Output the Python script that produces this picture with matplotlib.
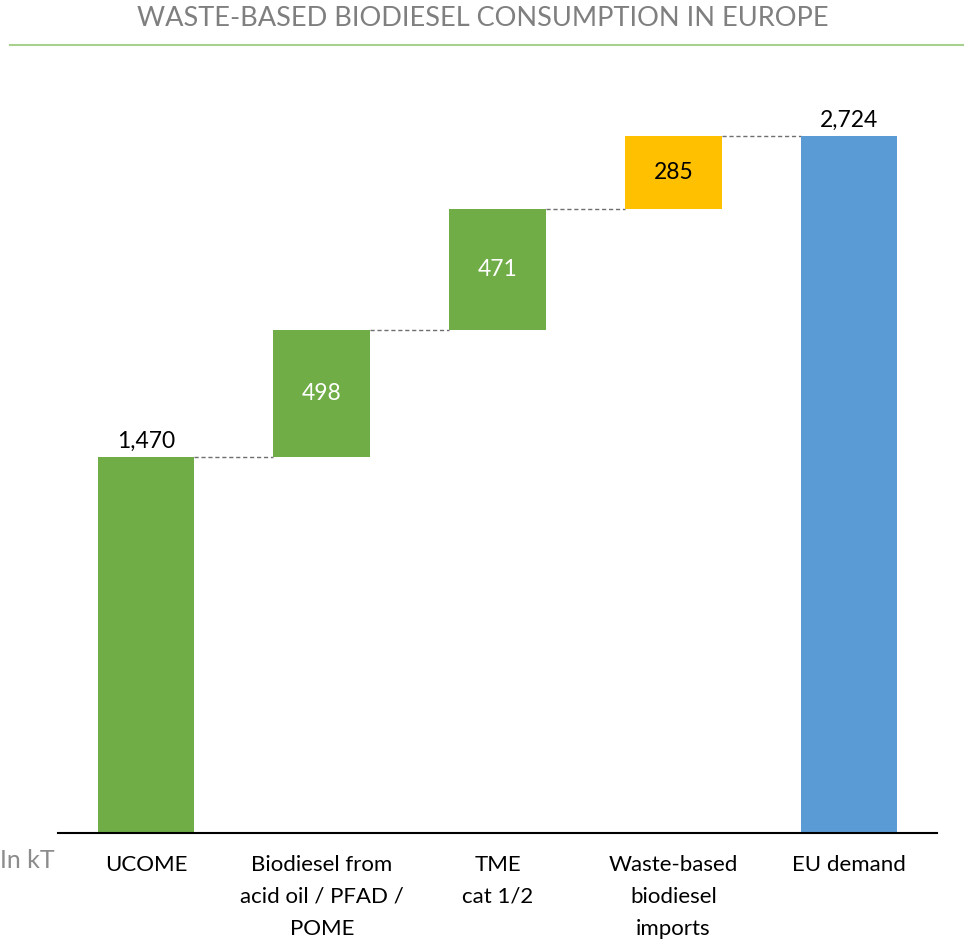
import numpy as np
import matplotlib.pyplot as plt
from matplotlib.lines import Line2D

plt.rcParams['font.family'] = ['Lato', 'DejaVu Sans']

categories = ['UCOME', 'Biodiesel from\nacid oil / PFAD /\nPOME', 'TME\ncat 1/2',
              'Waste-based\nbiodiesel\nimports', 'EU demand']
steps = [1470, 498, 471, 285]
total = 2724
bar_colors = ['#70AD47', '#70AD47', '#70AD47', '#FFC000', '#5B9BD5']
label_colors = ['black', 'white', 'white', 'black', 'black']

fig = plt.figure(figsize=(9.65, 9.42), dpi=100)
ax = fig.add_axes([58 / 965, 1 - 833 / 942, 879 / 965, 733 / 942])

x = np.arange(len(categories))
heights = steps + [total]
bottoms = [0] + list(np.cumsum(steps)[:-1]) + [0]
width = 0.55

ax.bar(x, heights, width, bottom=bottoms, color=bar_colors, zorder=2)

# value labels
for i, (h, b) in enumerate(zip(heights, bottoms)):
    txt = f'{h:,}'
    if i == 0 or i == len(heights) - 1:
        ax.annotate(txt, (x[i], b + h), xytext=(0, 4), textcoords='offset points',
                    ha='center', va='bottom', fontsize=16.5, color=label_colors[i])
    else:
        ax.text(x[i], b + h / 2, txt, ha='center', va='center', fontsize=16.5,
                color=label_colors[i])

# connectors
tops = [b + h for b, h in zip(bottoms, heights)]
for i in range(len(heights) - 1):
    ax.plot([x[i] + width / 2, x[i + 1] - width / 2], [tops[i], tops[i]],
            ls=(0, (3, 2)), color='#6F6F6F', lw=1, zorder=1)

ax.set_xlim(-0.5, len(categories) - 0.5)
ax.set_ylim(0, 2866)
ax.set_yticks([])
ax.set_xticks(x)
ax.set_xticklabels(categories, fontsize=16, linespacing=1.75)
ax.tick_params(axis='x', length=0, pad=15.5)
for s in ['top', 'right', 'left']:
    ax.spines[s].set_visible(False)
ax.spines['bottom'].set_linewidth(1.5)

fig.text(0.5, 1 - 18 / 942, 'WASTE-BASED BIODIESEL CONSUMPTION IN EUROPE', ha='center',
         va='center', fontsize=19.5, color='#7F7F7F')
fig.add_artist(Line2D([10 / 965, 963 / 965], [1 - 45 / 942, 1 - 45 / 942],
                      color='#A9D18E', lw=1.5, transform=fig.transFigure))
fig.text(0.0, 1 - 861 / 942, 'In kT', ha='left', va='center', fontsize=18, color='#8C8C8C')

fig.savefig('out.png', dpi=100)
